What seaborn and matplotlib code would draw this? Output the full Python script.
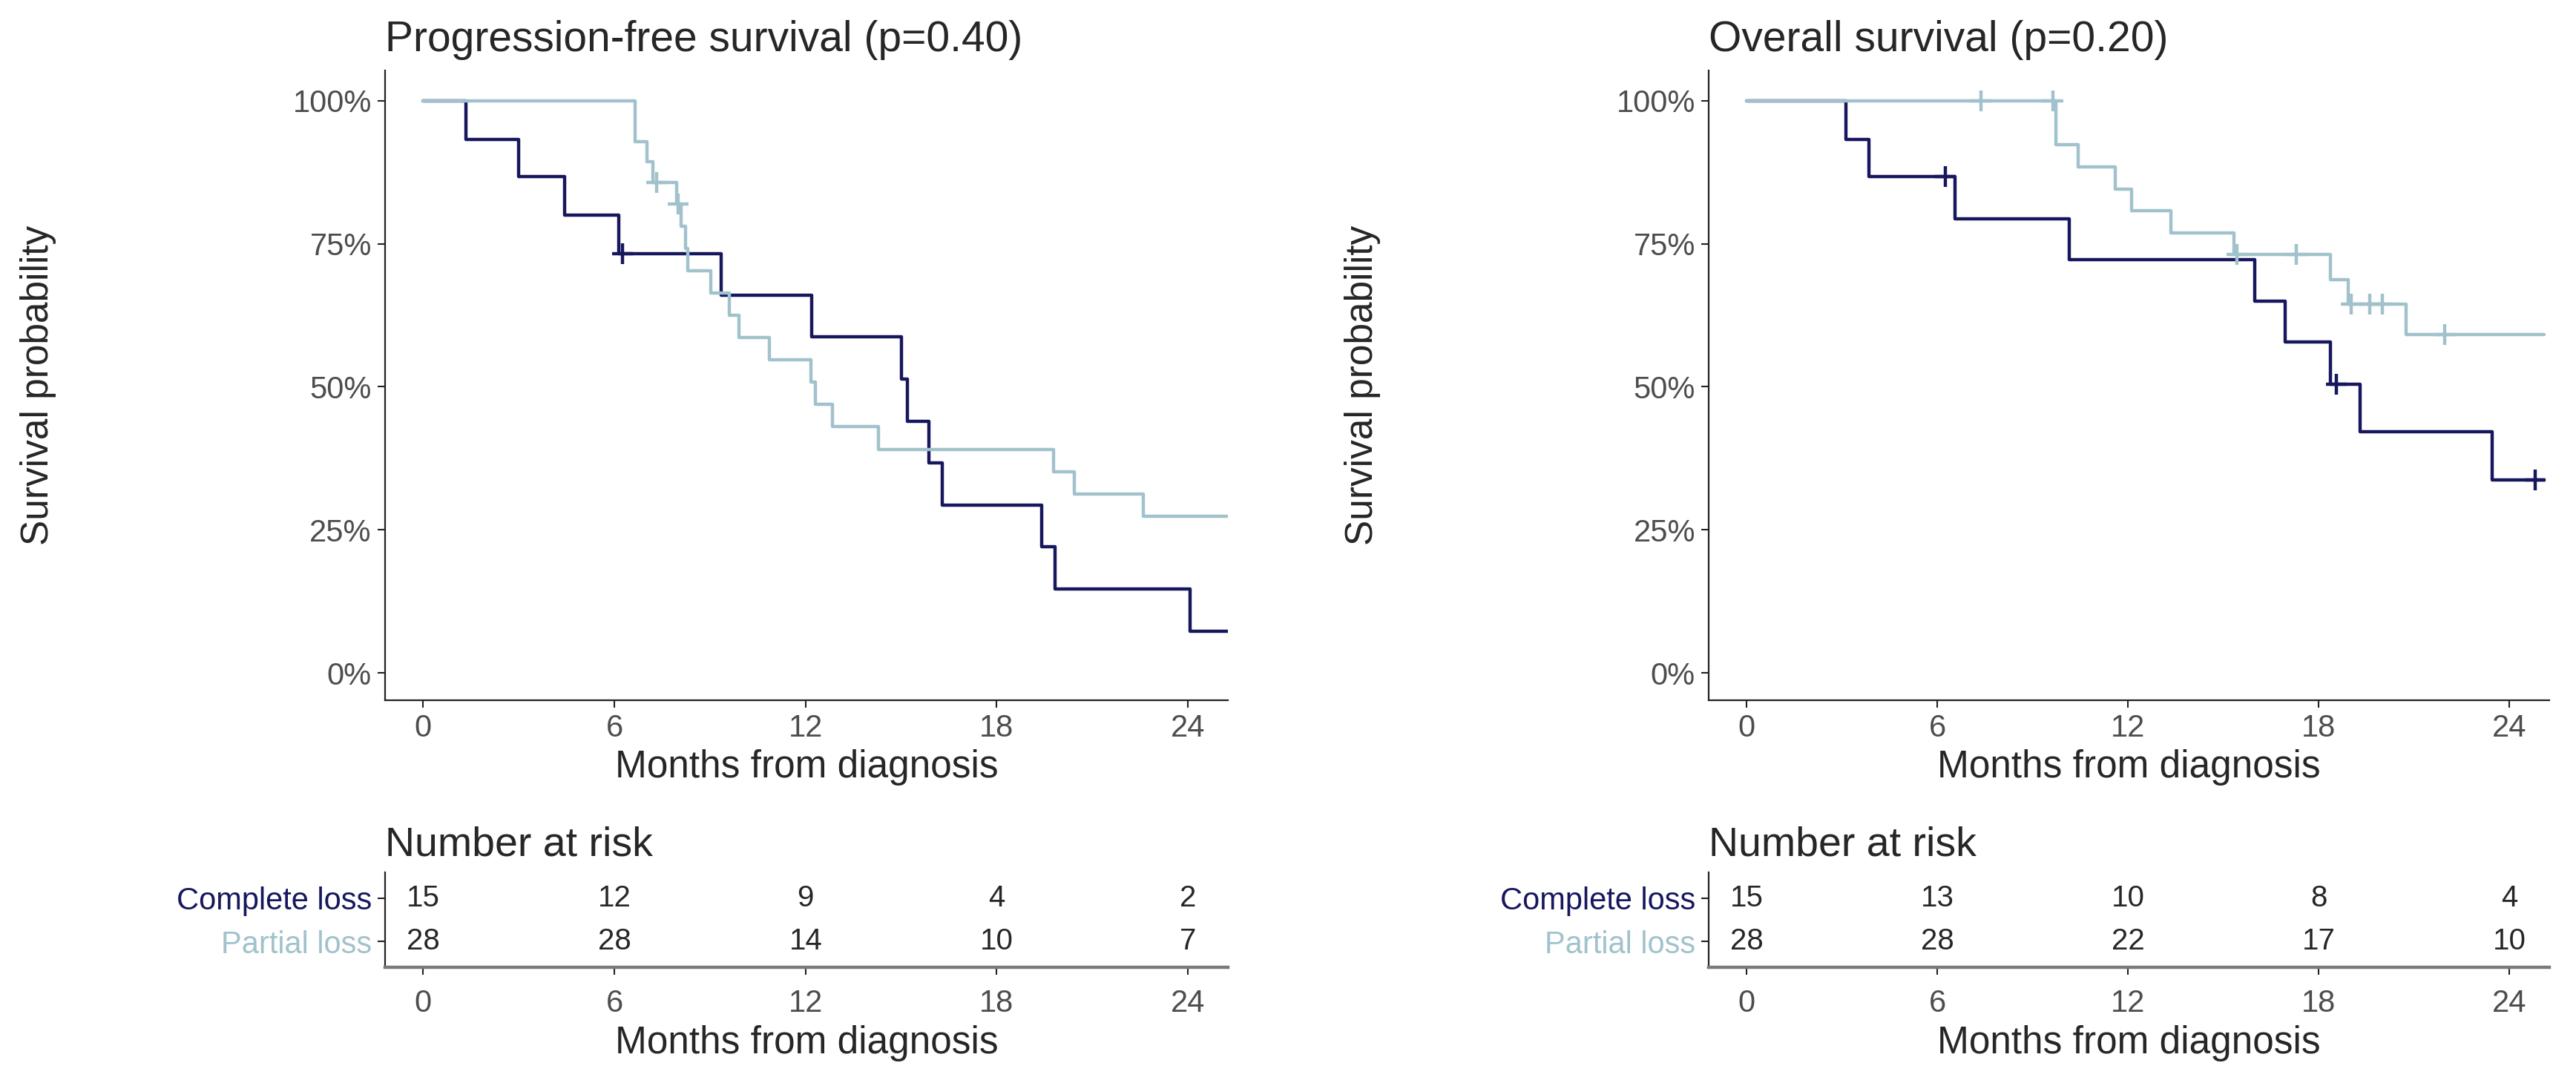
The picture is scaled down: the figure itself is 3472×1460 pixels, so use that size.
import numpy as np
import pandas as pd
import seaborn as sns
import matplotlib.pyplot as plt
from matplotlib.ticker import PercentFormatter

# --- Kaplan-Meier steps (months, survival %) ---
# Progression-free survival
pfs_complete_t = [0, 1.34, 3.0, 4.44, 6.14, 9.36, 12.2, 15.0, 15.2, 15.87, 16.28, 19.4, 19.82, 24.06, 25.3]
pfs_complete_s = [100, 93.3, 86.7, 80.0, 73.3, 66.0, 58.7, 51.3, 44.0, 36.7, 29.3, 22.0, 14.7, 7.3, 7.3]
pfs_complete_cens = [6.26]

pfs_partial_t = [0, 6.65, 7.03, 7.2, 7.96, 8.1, 8.23, 8.3, 9.03, 9.6, 9.9, 10.86, 12.16, 12.3, 12.84,
                 14.28, 19.77, 20.43, 22.6, 25.3]
pfs_partial_s = [100, 92.9, 89.3, 85.7, 82.0, 78.1, 74.2, 70.3, 66.4, 62.5, 58.6, 54.7, 50.8, 46.9, 43.0,
                 39.1, 35.2, 31.3, 27.4, 27.4]
pfs_partial_cens = [7.33, 8.0]

# Overall survival
os_complete_t = [0, 3.12, 3.84, 6.56, 10.14, 15.98, 16.94, 18.37, 19.29, 23.46, 25.1]
os_complete_s = [100, 93.3, 86.7, 79.4, 72.2, 65.0, 57.8, 50.5, 42.1, 33.7, 33.7]
os_complete_cens = [6.25, 18.55, 24.8]

os_partial_t = [0, 9.73, 10.42, 11.6, 12.12, 13.35, 15.34, 18.37, 18.93, 20.74, 25.1]
os_partial_s = [100, 92.3, 88.5, 84.6, 80.8, 76.9, 73.1, 68.8, 64.5, 59.1, 59.1]
os_partial_cens = [7.37, 9.64, 15.43, 17.3, 19.03, 19.6, 20.0, 21.96]

# Number at risk
risk_times = [0, 6, 12, 18, 24]
pfs_risk_complete = [15, 12, 9, 4, 2]
pfs_risk_partial = [28, 28, 14, 10, 7]
os_risk_complete = [15, 13, 10, 8, 4]
os_risk_partial = [28, 28, 22, 17, 10]

groups = ["Complete loss", "Partial loss"]
NAVY = "#17175e"
LIGHT = "#a1c2cc"
TICK_GREY = "#4d4d4d"
XLIM = (-1.2, 25.25)

sns.set_theme(style="white")
plt.rcParams['font.family'] = ['Liberation Sans', 'DejaVu Sans']

fig = plt.figure(figsize=(34.73, 14.6), dpi=100)


def style_axes(ax):
    sns.despine(ax=ax)
    for sp in ("left", "bottom"):
        ax.spines[sp].set_color("#222222")
        ax.spines[sp].set_linewidth(1.6)
    ax.tick_params(axis="both", which="major", length=7, width=1.5, color="#222222",
                   labelsize=30, labelcolor=TICK_GREY, pad=6, left=True, bottom=True)


def km_panel(ax, curves, title):
    for t, s, cens, color in curves:
        df = pd.DataFrame({"Months": t, "Survival": np.array(s) / 100})
        sns.lineplot(data=df, x="Months", y="Survival", ax=ax, color=color, linewidth=3.2,
                     drawstyle="steps-post", estimator=None, sort=False)
        idx = np.searchsorted(t, cens, side="right") - 1
        cy = np.array(s)[idx] / 100
        sns.scatterplot(x=cens, y=cy, ax=ax, marker="+", s=420, linewidth=3.2, color=color, zorder=4)
    ax.set_xlim(*XLIM)
    ax.set_ylim(-0.048, 1.053)
    ax.set_xticks(risk_times)
    ax.set_yticks([0, 0.25, 0.5, 0.75, 1.0])
    ax.yaxis.set_major_formatter(PercentFormatter(1.0, decimals=0))
    ax.set_title(title, loc="left", fontsize=41, pad=19)
    ax.set_xlabel("Months from diagnosis", fontsize=37, labelpad=6)
    ax.set_ylabel("Survival probability", fontsize=37)
    ax.yaxis.set_label_coords(-0.39, 0.5)
    style_axes(ax)


def risk_panel(ax, n_complete, n_partial):
    for x, n in zip(risk_times, n_complete):
        ax.text(x, 2, str(n), ha="center", va="center", fontsize=29, color="#262626")
    for x, n in zip(risk_times, n_partial):
        ax.text(x, 1, str(n), ha="center", va="center", fontsize=29, color="#262626")
    ax.set_xlim(*XLIM)
    ax.set_ylim(0.4, 2.6)
    ax.set_xticks(risk_times)
    ax.set_yticks([2, 1])
    ax.set_yticklabels(groups)
    ax.set_title("Number at risk", loc="left", fontsize=40, pad=16)
    ax.set_xlabel("Months from diagnosis", fontsize=37, labelpad=6)
    style_axes(ax)
    ax.tick_params(axis="x", pad=14)
    ax.spines["bottom"].set_color("#7a7a7a")
    ax.spines["bottom"].set_linewidth(3.2)
    for lbl, c in zip(ax.get_yticklabels(), [NAVY, LIGHT]):
        lbl.set_color(c)


# main panels
ax_pfs = fig.add_axes([0.1494, 0.3534, 0.3271, 0.5815])
ax_os = fig.add_axes([0.6631, 0.3534, 0.3262, 0.5815])
km_panel(ax_pfs, [(pfs_complete_t, pfs_complete_s, pfs_complete_cens, NAVY),
                  (pfs_partial_t, pfs_partial_s, pfs_partial_cens, LIGHT)],
         "Progression-free survival (p=0.40)")
km_panel(ax_os, [(os_complete_t, os_complete_s, os_complete_cens, NAVY),
                 (os_partial_t, os_partial_s, os_partial_cens, LIGHT)],
         "Overall survival (p=0.20)")

# risk tables
rk_pfs = fig.add_axes([0.1494, 0.1068, 0.3271, 0.0877])
rk_os = fig.add_axes([0.6631, 0.1068, 0.3262, 0.0877])
risk_panel(rk_pfs, pfs_risk_complete, pfs_risk_partial)
risk_panel(rk_os, os_risk_complete, os_risk_partial)

fig.savefig("out.png", dpi=100, facecolor="white")
